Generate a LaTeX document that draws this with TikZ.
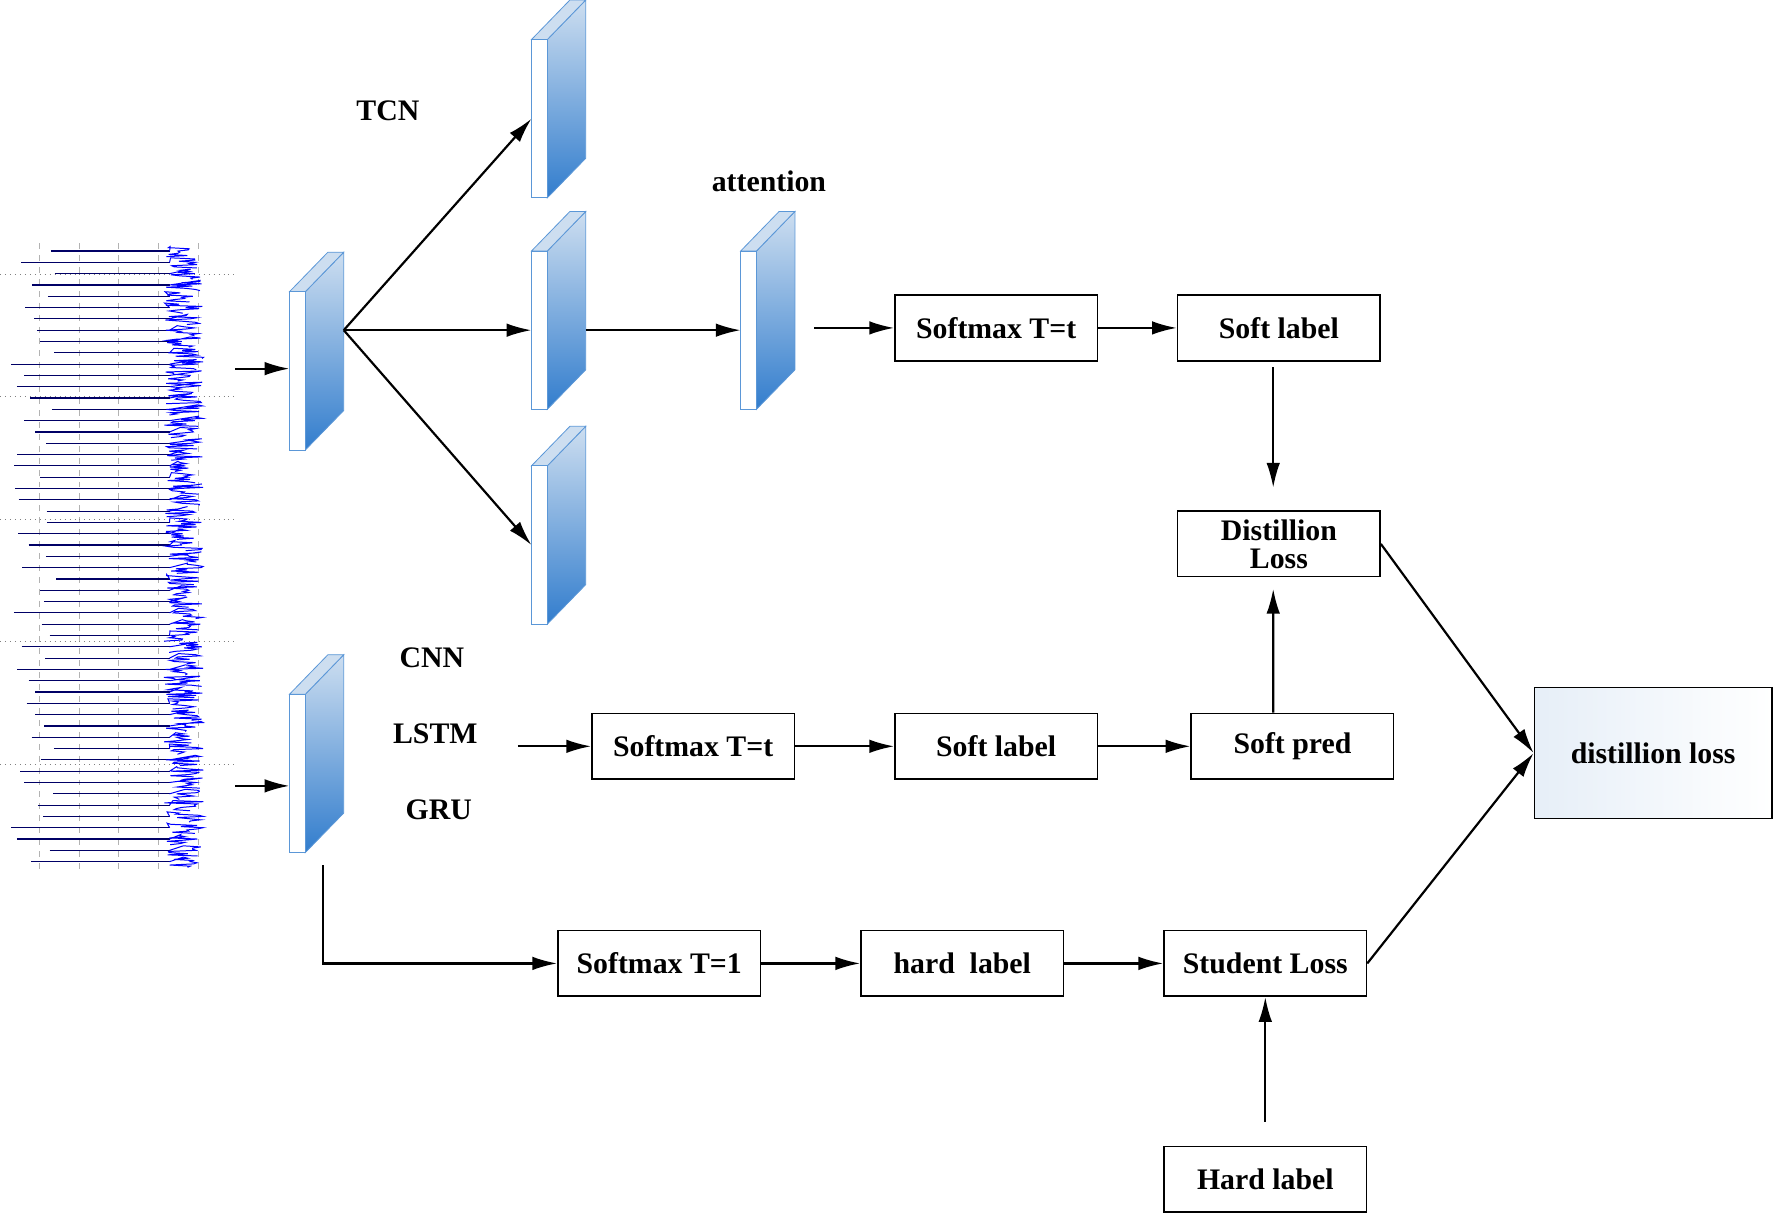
\documentclass[tikz,border=0pt]{standalone}
\usepackage{fontspec}
\setmainfont{Liberation Serif}
\usepackage{tikz}
\usetikzlibrary{shapes,arrows,arrows.meta}
\definecolor{slabblue}{RGB}{50,125,205}
\definecolor{slablight}{RGB}{205,222,240}
\tikzstyle{box} = [rectangle, draw, line width=0.8pt, minimum width=3.58cm,
    minimum height=1.16cm, font=\fontsize{15}{17}\selectfont\bfseries, align=center]
\tikzstyle{arrow} = [draw, -{Latex[length=4.4mm,width=2.4mm]}, line width=1.1pt]
\tikzstyle{line} = [draw, line width=1pt]
\tikzstyle{lbl} = [font=\fontsize{15}{17}\selectfont\bfseries]
% slab: name, x of front face, top y of front face
\newcommand{\slab}[3]{%
  \shade[top color=slablight, bottom color=slabblue, draw=slabblue!80]
    (#2+14,#3) -- (#2+48,#3-35) -- (#2+48,#3+105) -- (#2+14,#3+140) -- cycle;
  \fill[slablight, draw=slabblue!80] (#2,#3) -- (#2+34,#3-35) -- (#2+48,#3-35) -- (#2+14,#3) -- cycle;
  \filldraw[fill=white, draw=slabblue!80] (#2,#3) rectangle (#2+14,#3+140);
  \coordinate (#1) at (#2,#3+70);
  \coordinate (#1e) at (#2+48,#3+70);
}

\begin{document}
\begin{tikzpicture}[x=0.02cm, y=-0.02cm]
  \useasboundingbox (0,0) rectangle (1568,1073);
  % signal
  \pgfmathsetseed{7}
  \foreach \gx in {35,70,105,140,175}
    \draw[gray!60, dashed, line width=0.3pt] (\gx,215) -- (\gx,770);
  \foreach \gy in {243,351,459,567,676}
    \draw[gray, dotted, line width=0.5pt] (0,\gy) -- (210,\gy);
  \foreach \i in {0,...,54} {
    \pgfmathsetmacro{\sy}{222+\i*10}
    \pgfmathsetmacro{\sx}{10+rnd*40}
    \draw[blue!40!black, line width=0.6pt] (\sx,\sy) -- (150,\sy);
    \draw[blue, line width=0.5pt] (150,\sy)
      \foreach \k in {1,...,10} { -- ({145+rnd*35},{\sy+\k*1-5}) };
  }
  % slabs
  \slab{inA}{256}{258}
  \slab{tcnA}{470}{35}
  \slab{tcnB}{470}{222}
  \slab{tcnC}{470}{412}
  \slab{att}{655}{222}
  \slab{inB}{256}{614}
  \coordinate (split) at (304,292);
  \coordinate (inAin) at (208,326);
  \coordinate (inBin) at (208,695);
  \coordinate (attout) at (720,290);
  \coordinate (lstmout) at (458,660);
  \coordinate (inBdown) at (286,765);
  \coordinate (hardup) at (1119,992);
  % labels
  \node[lbl] (tcn) at (343,98) {TCN};
  \node[lbl] (attn) at (680,160) {attention};
  \node[lbl] (cnn) at (382,582) {CNN};
  \node[lbl] (lstm) at (385,649) {LSTM};
  \node[lbl] (gru) at (388,716) {GRU};
  % boxes
  \node[box] (smT) at (881,290) {Softmax T=t};
  \node[box] (softT) at (1131,290) {Soft label};
  \node[box, text width=2.6cm] (dist) at (1131,481) {Distillion\\[-3pt]Loss};
  \node[box] (smS) at (613,660) {Softmax T=t};
  \node[box] (softS) at (881,660) {Soft label};
  \node[box] (pred) at (1143,660) {Soft pred};
  \node[box, minimum width=4.2cm, minimum height=2.32cm, left color=slablight!50, right color=white] (final) at (1462,666) {distillion loss};
  \node[box] (smH) at (583,852) {Softmax T=1};
  \node[box] (hard) at (851,852) {hard\ \ label};
  \node[box] (stud) at (1119,852) {Student Loss};
  \node[box] (hardl) at (1119,1043) {Hard label};
  % edges
  \path[arrow] (inAin) -- (inAin -| inA);
  \path[arrow] (inBin) -- (inBin -| inB);
  \path[arrow] (split) -- (tcnA);
  \path[arrow] (split) -- (split -| tcnB);
  \path[arrow] (split) -- (tcnC);
  \path[arrow] (tcnBe) -- (att);
  \path[arrow] (attout) -- (smT);
  \path[arrow] (smT) -- (softT);
  \path[arrow] ([xshift=-0.1cm,yshift=-0.1cm]softT.south) -- ([xshift=-0.1cm,yshift=0.4cm]dist.north);
  \path[arrow] ([xshift=-0.34cm]pred.north) -- ([xshift=-0.1cm,yshift=-0.2cm]dist.south);
  \path[arrow] (lstmout) -- (smS);
  \path[arrow] (smS) -- (softS);
  \path[arrow] (softS) -- (pred);
  \path[arrow] (dist.east) -- (final.west);
  \path[arrow] (stud.east) -- (final.west);
  \path[arrow] (inBdown) |- (smH);
  \path[arrow] (smH) -- (hard);
  \path[arrow] (hard) -- (stud);
  \path[arrow] (hardup) -- (stud);
\end{tikzpicture}
\end{document}
